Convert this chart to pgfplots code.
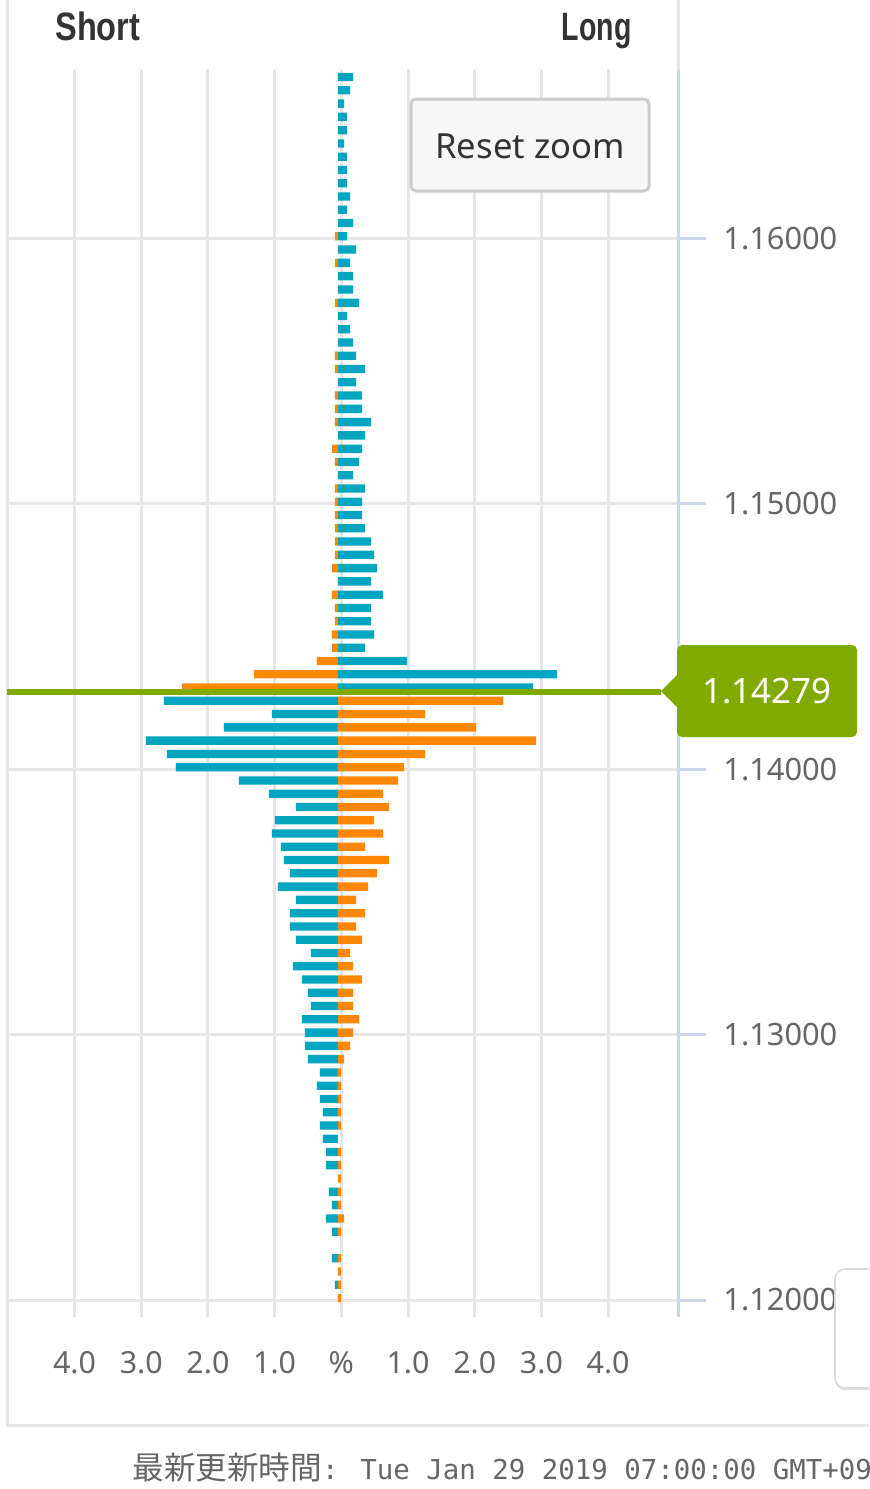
\documentclass[border=0pt]{standalone}
\usepackage{pgfplots}
\pgfplotsset{compat=1.18}
\usepackage{fontspec}
\setmainfont{Noto Sans}
\newfontfamily\hdrfont{Liberation Sans}
\newfontfamily\monofont{DejaVu Sans Mono}
\newfontfamily\cjk{Noto Sans CJK JP}
\usetikzlibrary{shadows}
\definecolor{teal2}{RGB}{0,165,192}
\definecolor{orng}{RGB}{255,136,0}
\definecolor{grn}{RGB}{128,170,0}
\definecolor{gridc}{RGB}{230,230,230}
\definecolor{axblue}{RGB}{204,214,235}
\definecolor{txtgray}{RGB}{102,102,102}
\definecolor{dark}{RGB}{51,51,51}
\definecolor{btnfill}{RGB}{247,247,247}
\definecolor{btnline}{RGB}{204,204,204}

\begin{document}
\begin{tikzpicture}
\begin{scope}[x=0.5pt,y=-0.5pt]
\path[use as bounding box] (0,0) rectangle (869,1489);
\draw[gridc, line width=1.5pt] (7,0) -- (7,1425) -- (869,1425);
\draw[gridc, line width=1.5pt] (678,0) -- (678,69);
\node[anchor=base west, inner sep=0pt, text=dark] at (55,40) {\scalebox{0.82}[1]{\hdrfont\fontsize{19.8pt}{20pt}\selectfont\bfseries Short}};
\node[anchor=base east, inner sep=0pt, text=dark] at (632,40) {\scalebox{0.72}[1]{\hdrfont\fontsize{19.8pt}{20pt}\selectfont\bfseries Long}};
\end{scope}
\begin{axis}[
  at={(3.5pt,-658.5pt)}, anchor=south west,
  scale only axis, width=335.5pt, height=624pt,
  xmin=-4.9625, xmax=5.0975,
  ymin=1.11936, ymax=1.166379,
  separate axis lines,
  axis x line*=bottom, axis y line*=right,
  x axis line style={draw=none},
  y axis line style={draw=axblue, line width=1.5pt},
  xtick={-3.95,-2.95,-1.95,-0.95,0.05,1.05,2.05,3.05,4.05},
  xticklabels={4.0,3.0,2.0,1.0,\%,1.0,2.0,3.0,4.0},
  ytick={1.12,1.13,1.14,1.15,1.16},
  scaled y ticks=false,
  xmajorgrids, ymajorgrids,
  major grid style={draw=gridc, line width=1.5pt},
  tick align=outside, major tick length=14pt,
  xtick style={draw=none},
  ytick style={draw=axblue, line width=1.5pt},
  xticklabel style={font=\fontsize{15.2pt}{16pt}\selectfont, text=txtgray, anchor=base, yshift=-14pt},
  yticklabel style={font=\fontsize{15.4pt}{16pt}\selectfont, text=txtgray, anchor=west, inner sep=0pt, xshift=8.5pt,
    /pgf/number format/fixed, /pgf/number format/fixed zerofill, /pgf/number format/precision=5,
    /pgf/number format/assume math mode=true},
  clip=true,
]
% long side above price (loss, teal)
\addplot[xbar, bar width=4.15pt, bar shift=0pt, fill=teal2, draw=none, yshift=1pt] coordinates {
(0.225,1.1660) (0.18,1.1655) (0.09,1.1650) (0.135,1.1645) (0.135,1.1640)
(0.09,1.1635) (0.135,1.1630) (0.135,1.1625) (0.135,1.1620) (0.18,1.1615)
(0.135,1.1610) (0.225,1.1605) (0.135,1.1600) (0.27,1.1595) (0.18,1.1590)
(0.225,1.1585) (0.225,1.1580) (0.315,1.1575) (0.135,1.1570) (0.18,1.1565)
(0.225,1.1560) (0.27,1.1555) (0.405,1.1550) (0.27,1.1545) (0.36,1.1540)
(0.36,1.1535) (0.495,1.1530) (0.405,1.1525) (0.36,1.1520) (0.315,1.1515)
(0.225,1.1510) (0.405,1.1505) (0.36,1.1500) (0.36,1.1495) (0.405,1.1490)
(0.495,1.1485) (0.54,1.1480) (0.585,1.1475) (0.495,1.1470) (0.675,1.1465)
(0.495,1.1460) (0.495,1.1455) (0.54,1.1450) (0.405,1.1445) (1.035,1.1440)
(3.285,1.1435) (2.925,1.1430)
};
% short side above price (profit, orange)
\addplot[xbar, bar width=4.15pt, bar shift=0pt, fill=orng, draw=none, yshift=1pt] coordinates {
(-0.045,1.1600) (-0.045,1.1590) (-0.045,1.1575) (-0.045,1.1555) (-0.045,1.1550)
(-0.045,1.1540) (-0.045,1.1535) (-0.045,1.1530) (-0.09,1.1520) (-0.045,1.1515)
(-0.045,1.1505) (-0.045,1.1500) (-0.045,1.1495) (-0.045,1.1490) (-0.045,1.1485)
(-0.045,1.1480) (-0.09,1.1475) (-0.09,1.1465) (-0.045,1.1460) (-0.045,1.1455)
(-0.09,1.1450) (-0.09,1.1445) (-0.315,1.1440) (-1.26,1.1435) (-2.34,1.1430)
};
% short side below price (loss, teal)
\addplot[xbar, bar width=4.15pt, bar shift=0pt, fill=teal2, draw=none, yshift=1pt] coordinates {
(-2.61,1.1425) (-0.99,1.1420) (-1.71,1.1415) (-2.88,1.1410) (-2.565,1.1405)
(-2.43,1.1400) (-1.485,1.1395) (-1.035,1.1390) (-0.63,1.1385) (-0.945,1.1380)
(-0.99,1.1375) (-0.855,1.1370) (-0.81,1.1365) (-0.72,1.1360) (-0.9,1.1355)
(-0.63,1.1350) (-0.72,1.1345) (-0.72,1.1340) (-0.63,1.1335) (-0.405,1.1330)
(-0.675,1.1325) (-0.54,1.1320) (-0.45,1.1315) (-0.405,1.1310) (-0.54,1.1305)
(-0.495,1.1300) (-0.495,1.1295) (-0.45,1.1290) (-0.27,1.1285) (-0.315,1.1280)
(-0.27,1.1275) (-0.225,1.1270) (-0.27,1.1265) (-0.225,1.1260) (-0.18,1.1255)
(-0.18,1.1250) (-0.135,1.1240) (-0.09,1.1235) (-0.18,1.1230) (-0.09,1.1225)
(-0.09,1.1215) (-0.045,1.1205)
};
% long side below price (profit, orange)
\addplot[xbar, bar width=4.15pt, bar shift=0pt, fill=orng, draw=none, yshift=1pt] coordinates {
(2.475,1.1425) (1.305,1.1420) (2.07,1.1415) (2.97,1.1410) (1.305,1.1405)
(0.99,1.1400) (0.9,1.1395) (0.675,1.1390) (0.765,1.1385) (0.54,1.1380)
(0.675,1.1375) (0.405,1.1370) (0.765,1.1365) (0.585,1.1360) (0.45,1.1355)
(0.27,1.1350) (0.405,1.1345) (0.27,1.1340) (0.36,1.1335) (0.18,1.1330)
(0.225,1.1325) (0.36,1.1320) (0.225,1.1315) (0.225,1.1310) (0.315,1.1305)
(0.225,1.1300) (0.18,1.1295) (0.09,1.1290) (0.045,1.1285) (0.045,1.1280)
(0.045,1.1275) (0.045,1.1270) (0.045,1.1265) (0.045,1.1255) (0.045,1.1250)
(0.045,1.1245) (0.045,1.1240) (0.045,1.1235) (0.09,1.1230) (0.045,1.1225)
(0.045,1.1215) (0.045,1.1210) (0.045,1.1205) (0.045,1.1200)
};
% current price line
\addplot[grn, line width=2.75pt, yshift=1.5pt] coordinates {(-4.9625,1.14279) (4.8426,1.14279)};
\end{axis}
\begin{scope}[x=0.5pt,y=-0.5pt]
\draw[btnline, fill=btnfill, line width=1.5pt, rounded corners=2.5pt] (411,99) rectangle (649,191);
\node[text=dark, inner sep=0pt] at (530,146) {\fontsize{17.3pt}{18pt}\selectfont Reset zoom};
\fill[grn, rounded corners=2.5pt] (677,645) rectangle (857,737);
\fill[grn] (661,691) -- (678,674) -- (678,708) -- cycle;
\node[text=white, inner sep=0pt] at (767,691) {\fontsize{17.5pt}{18pt}\selectfont 1.14279};
\node[anchor=base west, inner sep=0pt, text=txtgray] at (132,1479) {\makebox[366pt][l]{{\cjk\fontsize{15.8pt}{16pt}\selectfont 最新更新時間}{\monofont\fontsize{13.7pt}{14pt}\selectfont : Tue Jan 29 2019 07:00:00 GMT+09}}};
\filldraw[draw=btnline!70, fill=white, line width=0.8pt, rounded corners=5pt, drop shadow={opacity=0.25, shadow xshift=0pt, shadow yshift=-1pt}] (869,1269) -- (835,1269) -- (835,1388) -- (869,1388);
\end{scope}
\end{tikzpicture}
\end{document}
